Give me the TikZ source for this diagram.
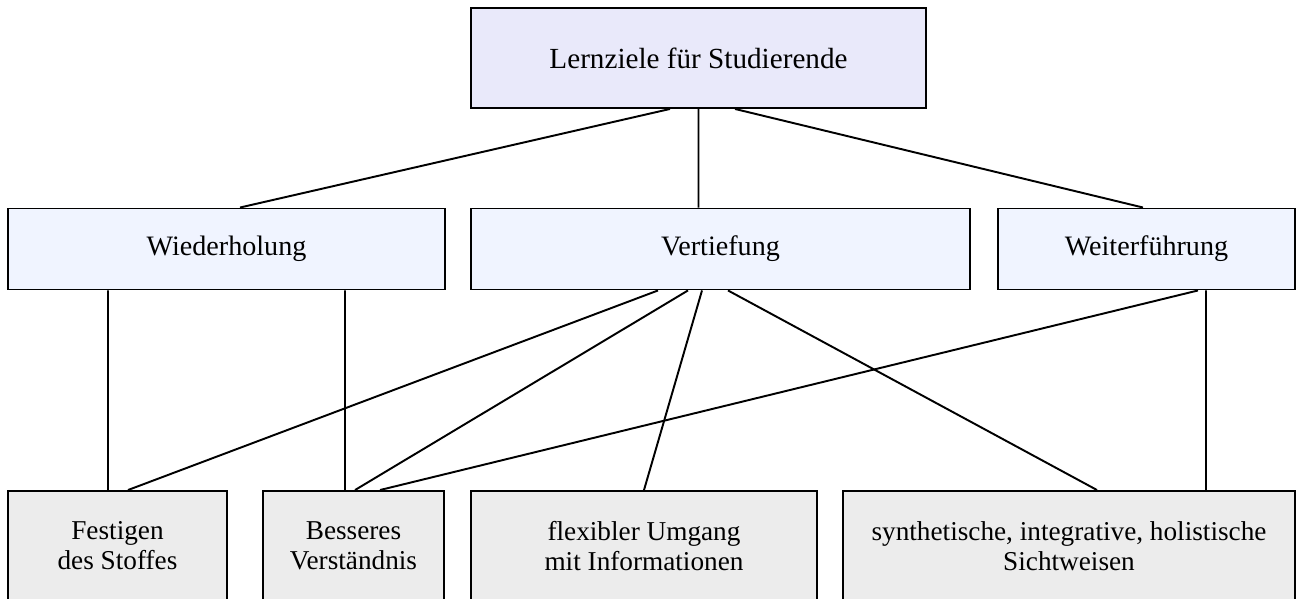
\documentclass[tikz,border=0pt]{standalone}
\usepackage{fontspec}
\setmainfont{Liberation Serif}
\usepackage{tikz}

\definecolor{topfill}{RGB}{233,233,250}
\definecolor{midfill}{RGB}{240,244,255}
\definecolor{lowfill}{RGB}{236,236,236}

\begin{document}
\begin{tikzpicture}[line width=1.1pt,
        goal/.style={rectangle,draw,fill=topfill,minimum width=9.1cm,minimum height=2cm,inner sep=0pt,font=\fontsize{16.6}{19}\selectfont},
        kind/.style={rectangle,draw,fill=midfill,minimum height=1.62cm,inner sep=0pt,font=\fontsize{16}{18}\selectfont},
        aim/.style={rectangle,draw,fill=lowfill,minimum height=2.2cm,inner sep=0pt,align=center,font=\fontsize{15.5}{17}\selectfont}]

            %\draw [help lines] (0,0) grid (26,12);
            \useasboundingbox (0,0) rectangle (25.98,11.98);

            \path   (13.97,10.82) node (lz) [goal] {Lernziele für Studierende}
                    (4.53,7.00) node (wdh) [kind,minimum width=8.74cm] {Wiederholung}
                    (14.41,7.00) node (vtf) [kind,minimum width=9.98cm] {Vertiefung}
                    (22.93,7.00) node (wtf) [kind,minimum width=5.94cm] {Weiterführung}
                    (2.35,1.06) node (fst) [aim,minimum width=4.38cm] {Festigen\\des Stoffes}
                    (7.07,1.06) node (bvs) [aim,minimum width=3.62cm] {Besseres\\Verständnis}
                    (12.88,1.06) node (flx) [aim,minimum width=6.92cm] {flexibler Umgang\\mit Informationen}
                    (21.38,1.06) node (syn) [aim,minimum width=9.04cm] {synthetische, integrative, holistische\\Sichtweisen};

            \draw ([xshift=-0.57cm]lz.south) -- ([xshift=0.27cm]wdh.north);
            \draw (lz.south) -- ([xshift=-0.44cm]vtf.north);
            \draw ([xshift=0.73cm]lz.south) -- ([xshift=-0.07cm]wtf.north);

            \draw ([xshift=-2.37cm]wdh.south) -- ([xshift=-0.19cm]fst.north);
            \draw ([xshift=2.37cm]wdh.south) -- ([xshift=-0.17cm]bvs.north);

            \draw ([xshift=-1.25cm]vtf.south) -- ([xshift=0.21cm]fst.north);
            \draw ([xshift=-0.65cm]vtf.south) -- ([xshift=0.03cm]bvs.north);
            \draw ([xshift=-0.37cm]vtf.south) -- (flx.north);
            \draw ([xshift=0.15cm]vtf.south) -- ([xshift=0.56cm]syn.north);

            \draw ([xshift=1.03cm]wtf.south) -- ([xshift=0.53cm]bvs.north);
            \draw ([xshift=1.19cm]wtf.south) -- ([xshift=2.74cm]syn.north);

        \end{tikzpicture}
\end{document}
